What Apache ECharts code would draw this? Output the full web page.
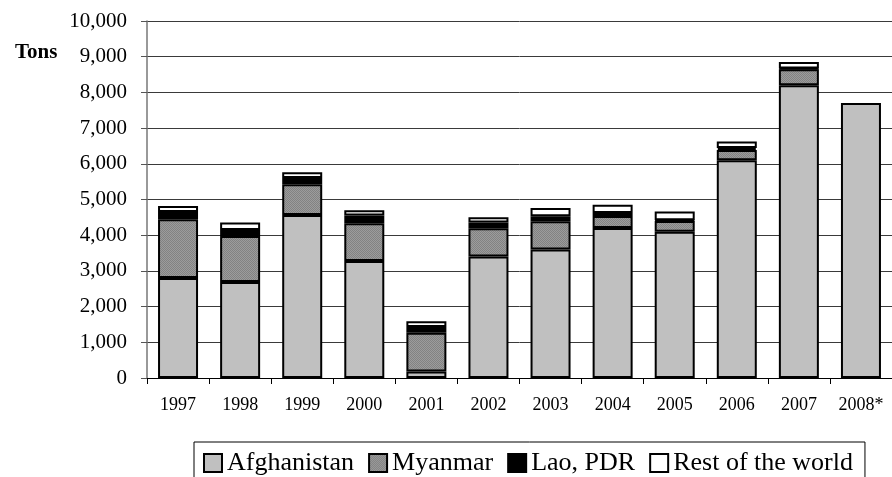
<!DOCTYPE html>
<html>
<head>
<meta charset="utf-8">
<script src="https://cdn.jsdelivr.net/npm/echarts@6/dist/echarts.min.js"></script>
<style>
  html, body { margin: 0; padding: 0; background: #fff; }
  #chart { width: 892px; height: 477px; }
</style>
</head>
<body>
<div id="chart"></div>
<script>
const years = ['1997', '1998', '1999', '2000', '2001', '2002', '2003', '2004', '2005', '2006', '2007', '2008*'];
const afghanistan = [2800, 2690, 4565, 3276, 185, 3400, 3600, 4200, 4100, 6100, 8200, 7700];
const myanmar = [1645, 1290, 865, 1060, 1080, 795, 790, 335, 300, 290, 450, null];
const lao = [205, 165, 175, 215, 165, 160, 140, 90, 20, 55, 20, null];
const restOfWorld = [168, 210, 160, 150, 160, 145, 230, 230, 245, 180, 185, null];

const serif = "'Liberation Serif', 'Times New Roman', serif";

// dithered grey fill for Myanmar, like the print original
const dither = document.createElement('canvas');
dither.width = 2;
dither.height = 2;
const dctx = dither.getContext('2d');
dctx.fillStyle = '#9c9c9c';
dctx.fillRect(0, 0, 2, 2);
dctx.fillStyle = '#828282';
dctx.fillRect(0, 0, 1, 1);
dctx.fillRect(1, 1, 1, 1);
const myanmarFill = { image: dither, repeat: 'repeat' };

const chart = echarts.init(document.getElementById('chart'));

const barSeries = (name, data, color) => ({
  name,
  type: 'bar',
  stack: 'total',
  barWidth: 40,
  data,
  itemStyle: {
    color,
    borderColor: '#000',
    borderWidth: 2
  },
  emphasis: { disabled: true }
});

chart.setOption({
  animation: false,
  textStyle: { fontFamily: serif, color: '#000' },
  title: {
    text: 'Tons',
    left: 10,
    top: 37,
    textStyle: { fontFamily: serif, fontSize: 21, fontWeight: 'bold', color: '#000' }
  },
  legend: {
    left: 194,
    top: 442,
    padding: [8, 12, 12, 9],
    itemGap: 14,
    itemWidth: 18,
    itemHeight: 18,
    icon: 'rect',
    borderColor: '#000',
    borderWidth: 1,
    itemStyle: { borderColor: '#000', borderWidth: 2 },
    textStyle: { fontFamily: serif, fontSize: 26, color: '#000' }
  },
  grid: {
    left: 147,
    top: 21,
    width: 751,
    height: 357
  },
  xAxis: {
    type: 'category',
    data: years,
    axisLine: { lineStyle: { color: '#000', width: 1 } },
    axisTick: { show: true, length: 6, lineStyle: { color: '#000' } },
    axisLabel: { fontFamily: serif, fontSize: 18, color: '#000', margin: 18 }
  },
  yAxis: {
    type: 'value',
    min: 0,
    max: 10000,
    interval: 1000,
    axisLine: { show: true, lineStyle: { color: '#777', width: 1.5 } },
    axisTick: { show: true, length: 6, lineStyle: { color: '#555' } },
    axisLabel: {
      fontFamily: serif,
      fontSize: 21,
      color: '#000',
      margin: 20,
      formatter: (v) => v.toLocaleString('en-US')
    },
    splitLine: { lineStyle: { color: '#3a3a3a', width: 1 } }
  },
  series: [
    barSeries('Afghanistan', afghanistan, '#c0c0c0'),
    barSeries('Myanmar', myanmar, myanmarFill),
    barSeries('Lao, PDR', lao, '#000'),
    barSeries('Rest of the world', restOfWorld, '#fff')
  ]
});
</script>
</body>
</html>
